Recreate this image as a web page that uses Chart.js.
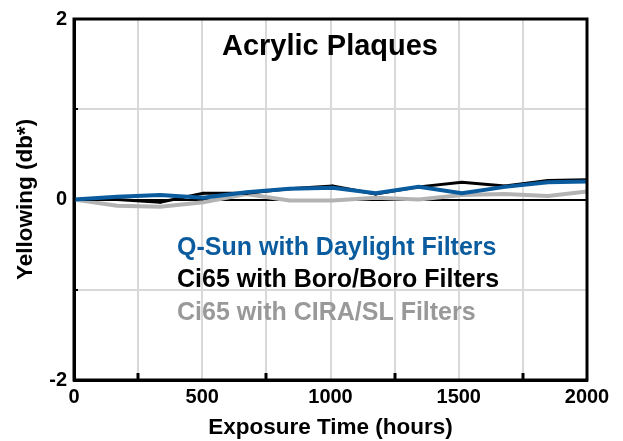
<!DOCTYPE html>
<html>
<head>
<meta charset="utf-8">
<script src="https://cdn.jsdelivr.net/npm/chart.js@4"></script>
<style>
  html, body { margin: 0; padding: 0; background: #fff; }
  #wrap { width: 623px; height: 441px; }
</style>
</head>
<body>
<div id="wrap"><canvas id="c" width="623" height="441"></canvas></div>
<script>
// ---- Data ----
const hours = [0, 168, 336, 504, 672, 840, 1008, 1176, 1344, 1512, 1680, 1848, 2000];
const qsunDaylight = [0, 0.03, 0.05, 0.02, 0.08, 0.12, 0.13, 0.07, 0.14, 0.07, 0.14, 0.19, 0.20];
const ci65BoroBoro = [0, 0.00, -0.03, 0.07, 0.07, 0.12, 0.15, 0.06, 0.14, 0.19, 0.15, 0.21, 0.22];
const ci65CiraSl = [0, -0.07, -0.08, -0.03, 0.06, -0.01, -0.01, 0.02, 0.00, 0.05, 0.06, 0.04, 0.09];
const seriesNames = ["Q-Sun with Daylight Filters", "Ci65 with Boro/Boro Filters", "Ci65 with CIRA/SL Filters"];
const yLabeledTicks = [2, 0, -2];
const xLabeledTicks = [0, 500, 1000, 1500, 2000];
const chartTitle = "Acrylic Plaques";
const xTitle = "Exposure Time (hours)";
const yTitle = "Yellowing (db*)";

const FONT = '"Liberation Sans", Arial, Helvetica, sans-serif';
const BLUE = '#0b5c9e';
const BLACK = '#000000';
const GRAYLINE = '#b3b3b3';
const GRAYTEXT = '#999999';

const toPts = (ys) => hours.map((h, i) => ({ x: h, y: ys[i] }));

const overlay = {
  id: 'overlay',
  afterDraw(chart) {
    const { ctx, chartArea: a, scales: { x, y } } = chart;
    ctx.save();
    ctx.strokeStyle = '#000';
    ctx.lineWidth = 3;
    [250, 750, 1250, 1750].forEach(v => {
      const px = Math.round(x.getPixelForValue(v));
      ctx.beginPath();
      ctx.moveTo(px, a.bottom);
      ctx.lineTo(px, a.bottom - 7);
      ctx.stroke();
    });
    ctx.lineWidth = 2;
    [1, -1].forEach(v => {
      const py = Math.round(y.getPixelForValue(v));
      ctx.beginPath();
      ctx.moveTo(a.left, py);
      ctx.lineTo(a.left + 4, py);
      ctx.stroke();
    });
    ctx.lineWidth = 3;
    ctx.strokeRect(a.left, a.top, a.right - a.left, a.bottom - a.top);
    ctx.fillStyle = '#000';
    ctx.font = 'bold 29px ' + FONT;
    ctx.textAlign = 'center';
    ctx.textBaseline = 'alphabetic';
    ctx.fillText(chartTitle, 330, 55);
    ctx.textAlign = 'left';
    ctx.font = 'bold 25px ' + FONT;
    const colors = [BLUE, BLACK, GRAYTEXT];
    const baselines = [255, 287, 320];
    seriesNames.forEach((n, i) => {
      ctx.fillStyle = colors[i];
      ctx.fillText(n, 177, baselines[i]);
    });
    ctx.restore();
  }
};

new Chart(document.getElementById('c'), {
  type: 'line',
  data: {
    datasets: [
      { label: seriesNames[0], data: toPts(qsunDaylight), borderColor: BLUE, backgroundColor: BLUE,
        borderWidth: 4, pointRadius: 1.5, pointBorderWidth: 0, order: 1 },
      { label: seriesNames[1], data: toPts(ci65BoroBoro), borderColor: BLACK, backgroundColor: BLACK,
        borderWidth: 3, pointRadius: 1.5, pointBorderWidth: 0, order: 2 },
      { label: seriesNames[2], data: toPts(ci65CiraSl), borderColor: GRAYLINE, backgroundColor: GRAYLINE,
        borderWidth: 4, pointRadius: 0, order: 3 }
    ]
  },
  options: {
    responsive: false,
    animation: false,
    devicePixelRatio: 1,
    layout: { padding: { top: 15, right: 36, left: 0, bottom: 0 } },
    plugins: { legend: { display: false }, title: { display: false }, tooltip: { enabled: false } },
    elements: { line: { tension: 0 } },
    scales: {
      x: {
        type: 'linear', min: 0, max: 2000,
        afterFit: s => { s.height = 61; },
        ticks: {
          stepSize: 250, autoSkip: false, maxRotation: 0, padding: 5,
          color: '#000', font: { family: FONT, size: 20, weight: 'bold' },
          callback: v => xLabeledTicks.includes(v) ? String(v) : ''
        },
        grid: { color: '#d9d9d9', lineWidth: 2, drawTicks: false },
        border: { display: true, color: '#000', width: 3 },
        title: { display: true, text: xTitle, color: '#000', padding: { top: 0, bottom: 0 },
                 font: { family: FONT, size: 22.5, weight: 'bold' } }
      },
      y: {
        type: 'linear', min: -2, max: 2,
        afterFit: s => { s.width = 74; },
        ticks: {
          stepSize: 1, autoSkip: false, padding: 7,
          color: '#000', font: { family: FONT, size: 20, weight: 'bold' },
          callback: v => yLabeledTicks.includes(v) ? String(v) : ''
        },
        grid: {
          color: c => (c.tick && c.tick.value === 0) ? '#000' : '#d9d9d9',
          lineWidth: 2, drawTicks: false
        },
        border: { display: true, color: '#000', width: 3 },
        title: { display: true, text: yTitle, color: '#000', padding: { top: 12, bottom: 0 },
                 font: { family: FONT, size: 22.5, weight: 'bold' } }
      }
    }
  },
  plugins: [overlay]
});
</script>
</body>
</html>
